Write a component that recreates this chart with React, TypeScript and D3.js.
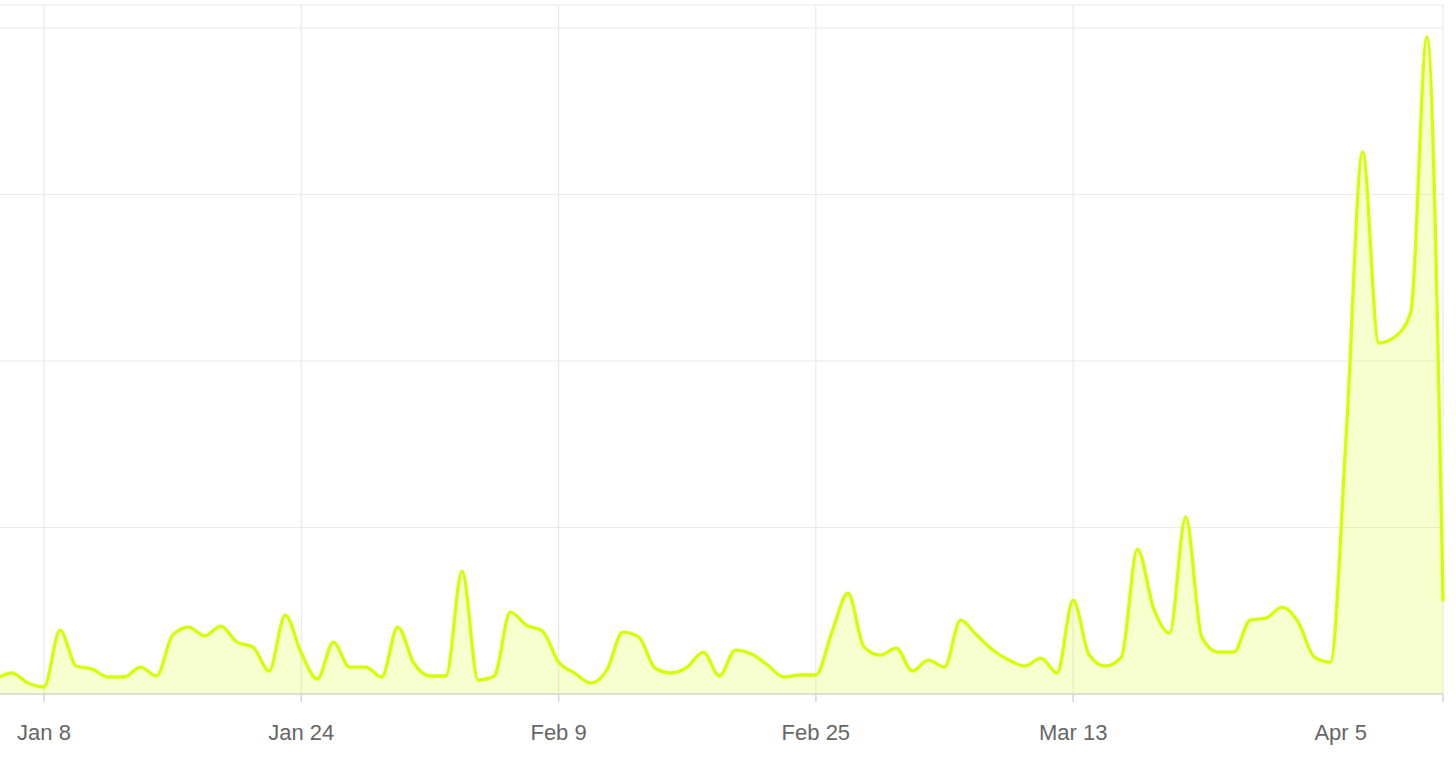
import React from "react";
import * as d3 from "d3";

// Daily values starting Jan 5, 2023
const startDate = "2023-01-05";
const values: number[] = [
  4.5, 6.3, 3.3, 2.1, 19.2, 8.4, 7.5, 5.1, 5.1, 8.1, 5.4, 17.7, 20.1, 17.4, 20.4, 15.6,
  14.1, 6.9, 23.7, 12.3, 4.5, 15.6, 8.1, 8.1, 5.1, 20.1, 9.3, 5.4, 5.4, 36.9, 4.2, 5.4,
  24.6, 20.7, 18.9, 9.6, 6.3, 3.3, 7.2, 18.6, 17.1, 7.8, 6.3, 8.1, 12.6, 5.4, 13.2, 12.0,
  8.7, 5.1, 5.7, 5.7, 18.6, 30.3, 14.1, 11.7, 13.8, 6.9, 10.2, 8.1, 22.2, 17.7, 13.2, 10.2,
  8.4, 10.8, 6.3, 28.2, 11.7, 8.4, 11.1, 43.5, 25.8, 18.3, 53.2, 17.1, 12.6, 12.6, 22.2, 22.8,
  26.1, 21.6, 11.1, 9.6, 79.3, 162.8, 105.4, 107.2, 114.7, 197.3, 28.2,
];
const tickDates: string[] = ["2023-01-08", "2023-01-24", "2023-02-09", "2023-02-25", "2023-03-13", "2023-04-05"];
const tickLabels: string[] = ["Jan 8", "Jan 24", "Feb 9", "Feb 25", "Mar 13", "Apr 5"];
const yTicks: number[] = [0, 50, 100, 150, 200];

const W = 1456;
const H = 779;

export default function App() {
  if (typeof document !== "undefined") document.body.style.margin = "0";
  const parse = d3.utcParse("%Y-%m-%d");
  const start = parse(startDate)!;
  const data = values.map((v, i) => ({ date: d3.utcDay.offset(start, i), value: v }));
  const ticks = tickDates.map((t) => parse(t)!);

  const plotTop = 5;
  const x = d3.scaleUtc().domain([ticks[0], ticks[ticks.length - 1]]).range([44, 1443]);
  const y = d3.scaleLinear().domain([0, 200]).range([694, 28]);

  const line = d3
    .line<{ date: Date; value: number }>()
    .x((d) => x(d.date))
    .y((d) => y(d.value))
    .curve(d3.curveMonotoneX);
  const area = d3
    .area<{ date: Date; value: number }>()
    .x((d) => x(d.date))
    .y0(y(0))
    .y1((d) => y(d.value))
    .curve(d3.curveMonotoneX);

  const xEnd = x(ticks[ticks.length - 1]);

  return (
    <svg width={W} height={H} style={{ position: "absolute", left: 0, top: 0, display: "block" }}>
      <rect x={0} y={0} width={W} height={H} fill="#ffffff" />
      {/* top frame line */}
      <line x1={0} x2={xEnd} y1={plotTop} y2={plotTop} stroke="#f1f1f1" strokeWidth={1.5} />
      {/* horizontal grid */}
      {yTicks.filter((t) => t > 0).map((t) => (
        <line key={t} x1={0} x2={xEnd} y1={y(t)} y2={y(t)} stroke="#e9e9e9" strokeWidth={1.2} />
      ))}
      {/* vertical grid */}
      {ticks.map((t, i) => (
        <line key={i} x1={x(t)} x2={x(t)} y1={plotTop} y2={y(0)} stroke="#e9e9e9" strokeWidth={1.2} />
      ))}
      <path d={area(data) || ""} fill="rgb(212,255,0)" fillOpacity={0.19} />
      <path d={line(data) || ""} fill="none" stroke="#d4ff00" strokeWidth={3.3} strokeLinejoin="round" strokeLinecap="round" />
      {/* x axis */}
      <line x1={0} x2={xEnd} y1={y(0)} y2={y(0)} stroke="#d3d3d3" strokeWidth={1.5} />
      {ticks.map((t, i) => (
        <line key={"t" + i} x1={x(t)} x2={x(t)} y1={y(0)} y2={y(0) + 8} stroke="#d3d3d3" strokeWidth={1.5} />
      ))}
      {ticks.map((t, i) => {
        const last = i === ticks.length - 1;
        return (
          <text
            key={"l" + i}
            x={last ? x(t) - 76 : x(t)}
            y={740}
            textAnchor={last ? "end" : "middle"}
            fontFamily="'Liberation Sans', Arial, sans-serif"
            fontSize={22}
            fill="#666666"
          >
            {tickLabels[i]}
          </text>
        );
      })}
    </svg>
  );
}
